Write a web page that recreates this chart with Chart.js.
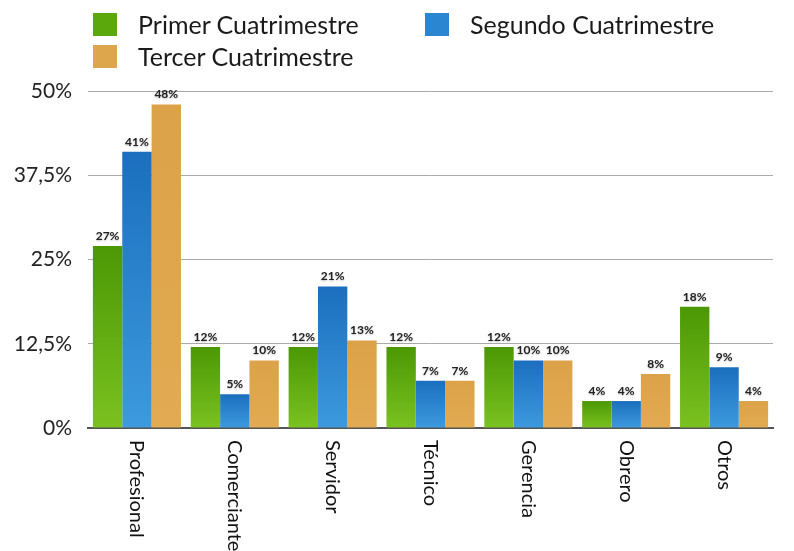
<!DOCTYPE html>
<html>
<head>
<meta charset="utf-8">
<script src="https://cdn.jsdelivr.net/npm/chart.js@4"></script>
<style>
  body { margin: 0; background: #fff; font-family: Lato, sans-serif; }
  #wrap { position: relative; width: 794px; height: 551px; }
  .key { position: absolute; display: flex; align-items: center; font-size: 25px; color: #1a1a1a; }
  .key span.sw { display: inline-block; width: 24px; height: 23px; margin-right: 21px; }
</style>
</head>
<body>
<div id="wrap">
  <canvas id="myChart"></canvas>
  <div id="legend"></div>
</div>
<script>
const categories = ['Profesional', 'Comerciante', 'Servidor', 'Técnico', 'Gerencia', 'Obrero', 'Otros'];
const seriesNames = ['Primer Cuatrimestre', 'Segundo Cuatrimestre', 'Tercer Cuatrimestre'];
const primer = [27, 12, 12, 12, 12, 4, 18];
const segundo = [41, 5, 21, 7, 10, 4, 9];
const tercer = [48, 10, 13, 7, 10, 8, 4];
const yTicks = [0, 12.5, 25, 37.5, 50];

// vertical gradient per bar, darker at the top
const barFill = (top, bottom) => (c) => {
  const chart = c.chart;
  if (!chart.chartArea || c.type !== 'data') return bottom;
  const y = chart.scales.y;
  const g = chart.ctx.createLinearGradient(0, y.getPixelForValue(c.raw), 0, y.getPixelForValue(0));
  g.addColorStop(0, top);
  g.addColorStop(1, bottom);
  return g;
};

const swatches = ['#5aa80c', '#2a86d0', '#dea64c'];

// value labels above each bar
const valueLabels = {
  id: 'valueLabels',
  afterDatasetsDraw(chart) {
    const ctx = chart.ctx;
    ctx.save();
    ctx.font = 'bold 12px Lato';
    ctx.textAlign = 'center';
    ctx.textBaseline = 'bottom';
    ctx.fillStyle = '#222';
    ctx.shadowColor = 'rgba(0,0,0,0.25)';
    ctx.shadowBlur = 2;
    ctx.shadowOffsetY = 1;
    chart.data.datasets.forEach((ds, i) => {
      chart.getDatasetMeta(i).data.forEach((bar, j) => {
        ctx.fillText(ds.data[j] + '%', bar.x, bar.y - 4);
      });
    });
    ctx.restore();
  }
};

// category names turned to read downwards
const downLabels = {
  id: 'downLabels',
  afterDraw(chart) {
    const ctx = chart.ctx;
    const x = chart.scales.x;
    const base = chart.scales.y.getPixelForValue(0);
    ctx.save();
    ctx.font = '20px Lato';
    ctx.fillStyle = '#111';
    ctx.textAlign = 'left';
    ctx.textBaseline = 'middle';
    categories.forEach((name, i) => {
      ctx.save();
      ctx.translate(x.getPixelForValue(i), base + 12);
      ctx.rotate(Math.PI / 2);
      ctx.fillText(name, 0, 0);
      ctx.restore();
    });
    ctx.restore();
  }
};

const ctx = document.getElementById('myChart');
const chart = new Chart(ctx, {
  type: 'bar',
  data: {
    labels: categories,
    datasets: [
      { label: seriesNames[0], data: primer, backgroundColor: barFill('#4b9805', '#7bc220') },
      { label: seriesNames[1], data: segundo, backgroundColor: barFill('#1b6fbe', '#3d9ade') },
      { label: seriesNames[2], data: tercer, backgroundColor: barFill('#dba249', '#e2aa52') }
    ]
  },
  options: {
    responsive: true,
    maintainAspectRatio: false,
    animation: false,
    layout: { padding: { top: 91, right: 21, bottom: 123, left: 0 } },
    plugins: { legend: { display: false }, tooltip: { enabled: false } },
    datasets: { bar: { categoryPercentage: 0.9, barPercentage: 1 } },
    scales: {
      x: {
        grid: { display: false, drawTicks: false },
        border: { color: '#555', width: 2 },
        ticks: { display: false },
        afterFit: (s) => { s.height = 0; }
      },
      y: {
        min: 0,
        max: 50,
        afterBuildTicks: (s) => { s.ticks = yTicks.map(v => ({ value: v })); },
        afterFit: (s) => { s.width = 88; },
        grid: { color: '#aaa', drawTicks: false },
        border: { display: false },
        ticks: {
          padding: 16,
          color: '#222',
          font: { family: 'Lato', size: 21 },
          callback: (v) => String(v).replace('.', ',') + '%'
        }
      }
    }
  },
  plugins: [valueLabels, downLabels]
});

// legend laid out in two columns
const legendSpots = [[93, 9], [425, 9], [93, 41]];
const legend = document.getElementById('legend');
seriesNames.forEach((name, i) => {
  const el = document.createElement('div');
  el.className = 'key';
  el.style.left = legendSpots[i][0] + 'px';
  el.style.top = legendSpots[i][1] + 'px';
  el.innerHTML = '<span class="sw" style="background:' + swatches[i] + '"></span>' + name;
  legend.appendChild(el);
});
</script>
</body>
</html>
